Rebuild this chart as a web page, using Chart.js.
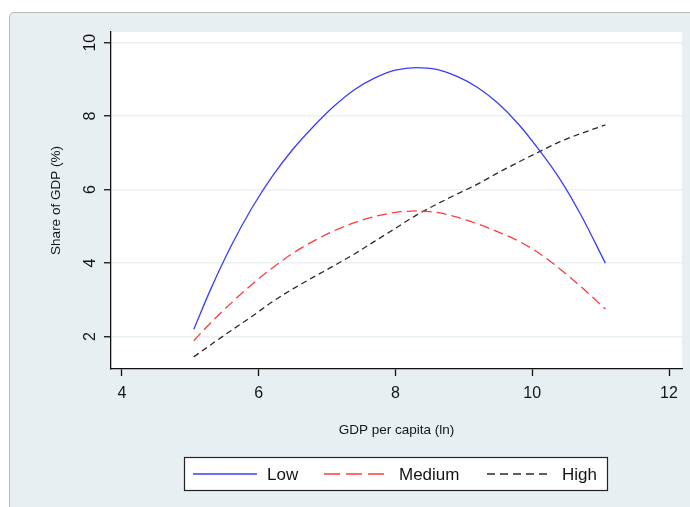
<!DOCTYPE html>
<html><head><meta charset="utf-8">
<script src="https://cdn.jsdelivr.net/npm/chart.js@4/dist/chart.umd.min.js"></script>
<style>
html,body{margin:0;padding:0;background:#fff;width:690px;height:507px;overflow:hidden;}
#panel{position:absolute;left:9px;top:12px;width:700px;height:520px;background:#e8eff2;border:1px solid #b8b8b8;border-radius:5px;box-sizing:border-box;}
#wrap{position:absolute;left:0;top:0;width:690px;height:507px;}
</style></head><body>
<div id="panel"></div>
<div id="wrap"><canvas id="c" width="690" height="507"></canvas></div>
<script>
// GDP per capita (ln)
const gdpPerCapitaLn = [5.05, 5.3, 5.6, 5.9, 6.2, 6.5, 6.8, 7.1, 7.4, 7.7, 8.0, 8.3, 8.6, 8.9, 9.2, 9.5, 9.8, 10.1, 10.4, 10.7, 11.07];
// Share of GDP (%)
const lowShare    = [2.2, 3.3, 4.48, 5.5, 6.37, 7.1, 7.72, 8.27, 8.72, 9.04, 9.25, 9.32, 9.27, 9.08, 8.78, 8.35, 7.78, 7.08, 6.3, 5.35, 4.0];
const mediumShare = [1.89, 2.38, 2.92, 3.42, 3.87, 4.27, 4.6, 4.88, 5.1, 5.27, 5.38, 5.42, 5.38, 5.25, 5.07, 4.85, 4.6, 4.27, 3.85, 3.38, 2.75];
const highShare   = [1.45, 1.78, 2.17, 2.55, 2.95, 3.3, 3.62, 3.93, 4.25, 4.6, 4.95, 5.3, 5.6, 5.88, 6.15, 6.46, 6.75, 7.03, 7.3, 7.52, 7.76];
const seriesNames = ['Low', 'Medium', 'High'];
const xTickValues = [4, 6, 8, 10, 12];
const yTickValues = [2, 4, 6, 8, 10];
const xTitle = 'GDP per capita (ln)';
const yTitle = 'Share of GDP (%)';

const toPoints = (ys) => ys.map((y, i) => ({x: gdpPerCapitaLn[i], y: y}));

const FONT = '"Liberation Sans", Arial, sans-serif';
const TXT = '#151515';

const plotBg = {
  id: 'plotBg',
  beforeDraw(chart) {
    const {ctx, chartArea: a} = chart;
    ctx.save();
    ctx.fillStyle = '#ffffff';
    ctx.fillRect(a.left, a.top, a.right - a.left, a.bottom - a.top);
    ctx.restore();
  }
};

const boxLegend = {
  id: 'boxLegend',
  afterDraw(chart) {
    const ctx = chart.ctx;
    const bx = 184, by = 457, bw = 423, bh = 33;
    ctx.save();
    ctx.fillStyle = '#fff';
    ctx.fillRect(bx, by, bw, bh);
    ctx.strokeStyle = '#222';
    ctx.lineWidth = 1.2;
    ctx.strokeRect(bx + 0.5, by + 0.5, bw, bh);
    const cy = by + bh / 2 + 0.5;
    const layout = [
      {x0: 193, x1: 257, tx: 267, dash: []},
      {x0: 324, x1: 390, tx: 399, dash: [16, 6]},
      {x0: 487, x1: 551, tx: 562, dash: [8, 5]}
    ];
    chart.data.datasets.forEach((ds, i) => {
      const L = layout[i];
      ctx.strokeStyle = ds.borderColor;
      ctx.lineWidth = 1.3;
      ctx.setLineDash(L.dash);
      ctx.beginPath();
      ctx.moveTo(L.x0, cy);
      ctx.lineTo(L.x1, cy);
      ctx.stroke();
      ctx.setLineDash([]);
      ctx.fillStyle = TXT;
      ctx.font = '17px ' + FONT;
      ctx.textBaseline = 'middle';
      ctx.textAlign = 'left';
      ctx.fillText(ds.label, L.tx, cy + 1);
    });
    ctx.restore();
  }
};

new Chart(document.getElementById('c'), {
  type: 'line',
  data: {
    datasets: [
      {label: seriesNames[0], data: toPoints(lowShare), borderColor: '#3c3cff', borderWidth: 1.3, pointRadius: 0, cubicInterpolationMode: 'monotone', fill: false},
      {label: seriesNames[1], data: toPoints(mediumShare), borderColor: '#ff3c3c', borderWidth: 1.3, borderDash: [10, 5], pointRadius: 0, cubicInterpolationMode: 'monotone', fill: false},
      {label: seriesNames[2], data: toPoints(highShare), borderColor: '#2a2a2a', borderWidth: 1.3, borderDash: [6, 4], pointRadius: 0, cubicInterpolationMode: 'monotone', fill: false}
    ]
  },
  options: {
    responsive: false,
    animation: false,
    events: [],
    layout: {padding: {top: 32, right: 8, left: 0, bottom: 0}},
    plugins: {legend: {display: false}, tooltip: {enabled: false}},
    scales: {
      x: {
        type: 'linear',
        min: 3.84, max: 12.19,
        afterBuildTicks: (s) => { s.ticks = xTickValues.map(v => ({value: v})); },
        afterFit: (s) => { s.height = 138; },
        border: {display: true, color: '#111', width: 1.3},
        grid: {drawOnChartArea: false, drawTicks: true, tickLength: 7, tickColor: '#111', tickWidth: 1.3},
        ticks: {color: TXT, font: {family: FONT, size: 16}, padding: 8, maxRotation: 0, autoSkip: false},
        title: {display: true, text: xTitle, color: TXT, font: {family: FONT, size: 13.5}, padding: {top: 0, bottom: 69}}
      },
      y: {
        type: 'linear',
        min: 1.12, max: 10.29,
        afterBuildTicks: (s) => { s.ticks = yTickValues.map(v => ({value: v})); },
        afterFit: (s) => { s.width = 111; },
        border: {display: true, color: '#111', width: 1.3},
        grid: {drawOnChartArea: true, color: '#e9f1f3', lineWidth: 1.5, drawTicks: true, tickLength: 7, tickColor: '#111', tickWidth: 1.3},
        ticks: {color: TXT, font: {family: FONT, size: 16}, padding: 5, minRotation: 90, maxRotation: 90, crossAlign: 'center', autoSkip: false},
        title: {display: true, text: yTitle, color: TXT, font: {family: FONT, size: 13.5}, padding: {top: 48, bottom: 0}}
      }
    }
  },
  plugins: [plotBg, boxLegend]
});
</script>
</body></html>
